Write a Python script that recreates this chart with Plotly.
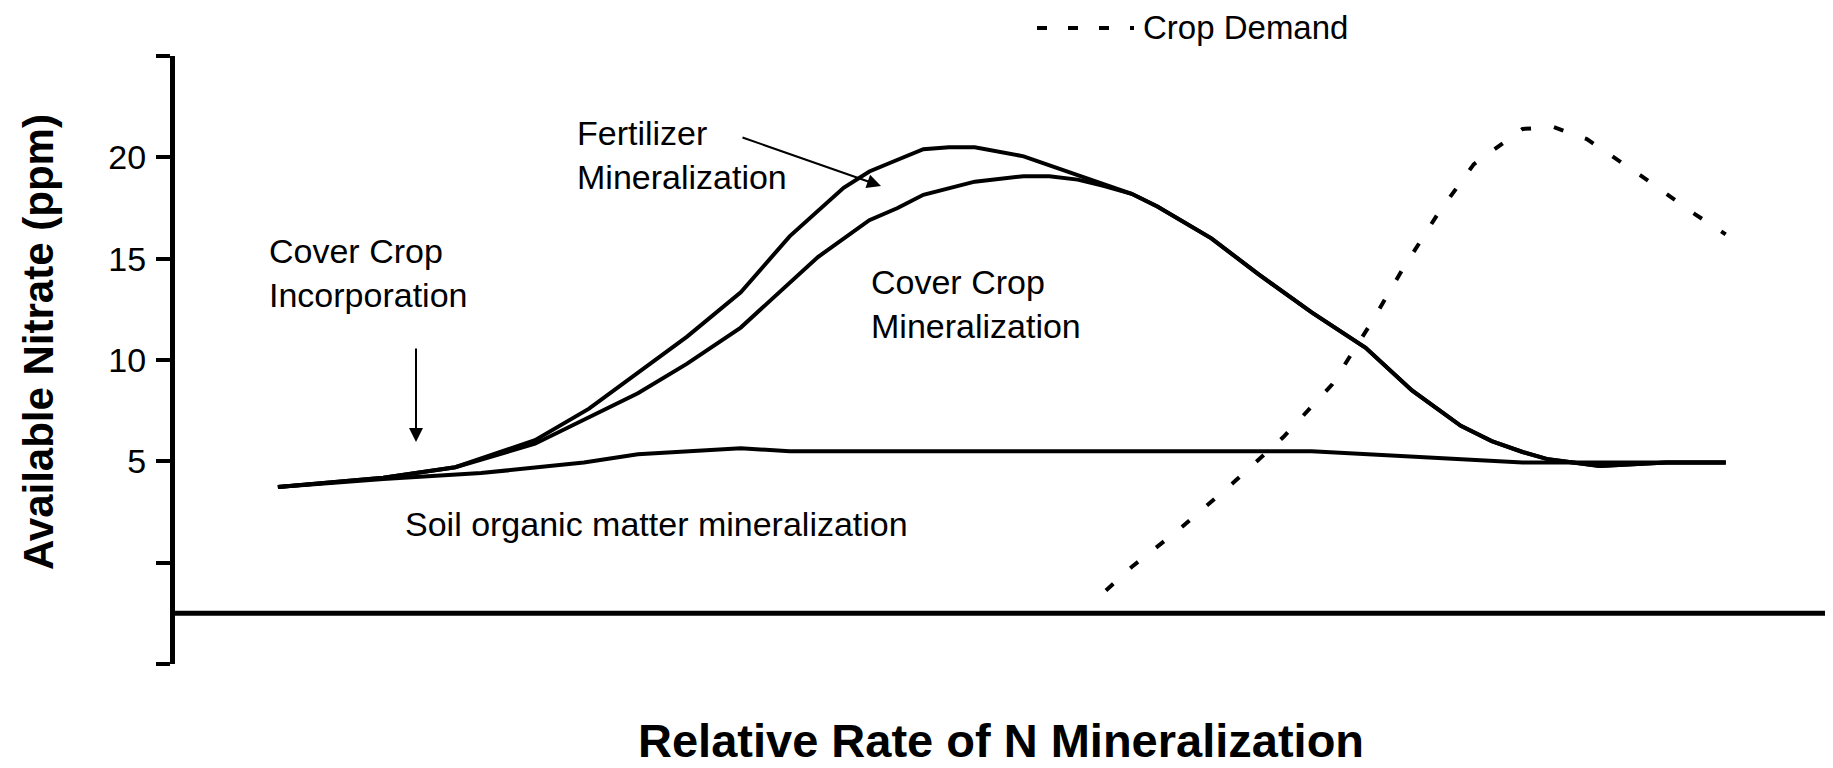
import plotly.graph_objects as go

# ---- data ----
som_x = [4.0, 8.1, 11.9, 15.9, 18.0, 22.0, 23.9, 44.2, 52.4, 60.3]
som_y = [3.73, 4.13, 4.42, 4.94, 5.35, 5.64, 5.5, 5.5, 4.94, 4.94]

tail_x = [37.2, 38.2, 40.3, 42.1, 44.2, 46.3, 48.1, 50.0, 51.2, 52.4, 53.4, 55.4, 58.0, 60.3]
tail_y = [18.2, 17.57, 16.0, 14.26, 12.35, 10.6, 8.5, 6.75, 6.0, 5.46, 5.1, 4.77, 4.94, 4.94]

fert_x = [4.0, 8.1, 10.9, 14.0, 16.1, 18.0, 19.9, 22.0, 23.9, 26.0, 27.0, 28.1, 29.1, 30.1, 31.1, 33.0, 35.1, 36.1] + tail_x
fert_y = [3.73, 4.19, 4.71, 6.04, 7.6, 9.34, 11.14, 13.34, 16.1, 18.5, 19.3, 19.88, 20.4, 20.5, 20.5, 20.05, 19.1, 18.65] + tail_y

cover_x = [4.0, 8.1, 10.9, 14.0, 18.0, 19.9, 22.0, 25.0, 27.0, 28.1, 29.1, 30.1, 31.1, 33.0, 34.0, 35.1, 36.1] + tail_x
cover_y = [3.73, 4.19, 4.71, 5.87, 8.36, 9.81, 11.6, 15.08, 16.9, 17.5, 18.15, 18.45, 18.8, 19.07, 19.07, 18.9, 18.6] + tail_y

crop_x = [36.2, 37.2, 39.1, 41.2, 43.1, 45.0, 46.5, 47.7, 49.1, 50.5, 52.4, 53.6, 54.9, 57.0, 59.1, 60.3]
crop_y = [-1.37, -0.21, 1.7, 4.0, 6.2, 8.8, 11.8, 14.4, 17.2, 19.65, 21.4, 21.5, 20.9, 19.1, 17.2, 16.2]

y_tickvals = [-5, 0, 5, 10, 15, 20, 25]
y_ticktext = ["", "", "5", "10", "15", "20", ""]
x_axis_cross = -2.5

# ---- layout geometry (pixels of the 1833x768 window) ----
OFF = 8                      # default page margin of the html body
W, H = 1833 - OFF, 768 - OFF
L, R, T, B = 175, 1826, 56, 664   # plot area in window pixels
FONT = "Arial, 'Liberation Sans', sans-serif"


def px(x):
    return (x - L) / (R - L)


def py(y):
    return (B - y) / (B - T)


fig = go.Figure()
line_style = dict(color="black", width=4)
fig.add_trace(go.Scatter(x=som_x, y=som_y, mode="lines", line=line_style,
                         name="Soil organic matter mineralization", showlegend=False))
fig.add_trace(go.Scatter(x=cover_x, y=cover_y, mode="lines", line=line_style,
                         name="Cover Crop Mineralization", showlegend=False))
fig.add_trace(go.Scatter(x=fert_x, y=fert_y, mode="lines", line=line_style,
                         name="Fertilizer Mineralization", showlegend=False))
fig.add_trace(go.Scatter(x=crop_x, y=crop_y, mode="lines",
                         line=dict(color="black", width=4, dash="10px,23px"),
                         name="Crop Demand", showlegend=False))

txt = dict(family=FONT, size=34, color="black")
annotations = [
    dict(text="Cover Crop<br>Incorporation", x=px(267), y=py(273), xanchor="left", yanchor="middle", align="left"),
    dict(text="Fertilizer<br>Mineralization", x=px(575), y=py(155), xanchor="left", yanchor="middle", align="left"),
    dict(text="Cover Crop<br>Mineralization", x=px(869), y=py(304), xanchor="left", yanchor="middle", align="left"),
    dict(text="Soil organic matter mineralization", x=px(403), y=py(524), xanchor="left", yanchor="middle", align="left"),
    dict(text="Crop Demand", x=px(1142), y=py(OFF), xanchor="left", yanchor="top", align="left",
         borderpad=0, font=dict(family=FONT, size=33, color="black")),
    dict(text="<b>Relative Rate of N Mineralization</b>", x=px(1001), y=py(768), xanchor="center", yanchor="bottom",
         borderpad=0, font=dict(family=FONT, size=47, color="black")),
    dict(text="<b>Available Nitrate (ppm)</b>", x=px(38), y=py(342), xanchor="center", yanchor="middle",
         textangle=-90, font=dict(family=FONT, size=42, color="black")),
]
for a in annotations:
    a.setdefault("font", txt)
    a.update(xref="paper", yref="paper", showarrow=False)

# arrows
annotations.append(dict(text="", x=px(416), y=py(442), xref="paper", yref="paper",
                        ax=0, ay=-95, axref="pixel", ayref="pixel", showarrow=True,
                        arrowhead=2, arrowsize=1.4, arrowwidth=2, arrowcolor="black", standoff=0))
annotations.append(dict(text="", x=px(881), y=py(186), xref="paper", yref="paper",
                        ax=-140, ay=-49, axref="pixel", ayref="pixel", showarrow=True,
                        arrowhead=2, arrowsize=1.4, arrowwidth=2, arrowcolor="black", standoff=0))

shapes = [
    dict(type="line", xref="paper", yref="y", x0=0, x1=1, y0=x_axis_cross, y1=x_axis_cross,
         line=dict(color="black", width=5)),
    dict(type="line", xref="paper", yref="paper", x0=px(1037), x1=px(1134), y0=py(28), y1=py(28),
         line=dict(color="black", width=4, dash="10px,21px")),
]

fig.update_layout(
    width=W, height=H,
    margin=dict(l=L - OFF, r=W - (R - OFF), t=T - OFF, b=H - (B - OFF), autoexpand=False),
    paper_bgcolor="white", plot_bgcolor="white",
    font=dict(family=FONT, color="black"),
    annotations=annotations, shapes=shapes,
    showlegend=False,
)
fig.update_xaxes(range=[0, 64.2], visible=False, showgrid=False, zeroline=False)
fig.update_yaxes(range=[-5, 25], tickvals=y_tickvals, ticktext=y_ticktext,
                 ticks="outside", ticklen=14, tickwidth=4, tickcolor="black",
                 showline=True, linewidth=5, linecolor="black",
                 showgrid=False, zeroline=False, ticklabelstandoff=3,
                 tickfont=dict(family=FONT, size=34, color="black"))

fig.write_html("out.html")
